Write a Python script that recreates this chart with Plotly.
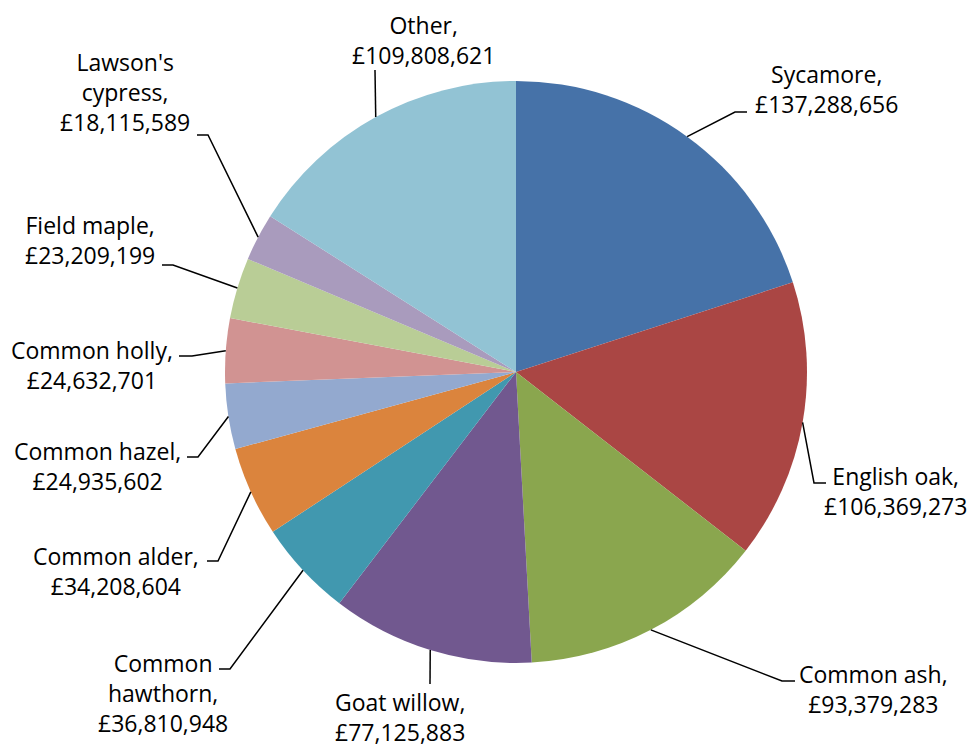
import math
import plotly.graph_objects as go

W, H = 970, 749

species = ["Sycamore", "English oak", "Common ash", "Goat willow", "Common hawthorn",
           "Common alder", "Common hazel", "Common holly", "Field maple",
           "Lawson's cypress", "Other"]
values = [137288656, 106369273, 93379283, 77125883, 36810948,
          34208604, 24935602, 24632701, 23209199, 18115589, 109808621]
label_text = ["Sycamore,", "English oak,", "Common ash,", "Goat willow,", "Common<br>hawthorn,",
              "Common alder,", "Common hazel,", "Common holly,", "Field maple,",
              "Lawson's<br>cypress,", "Other,"]
colors = ["#4672A8", "#AA4644", "#8AA64E", "#71588F", "#4198AF",
          "#DB843D", "#93A9CF", "#D19392", "#B9CD96", "#A99BBD", "#92C3D4"]

# layout of the pie (pixels)
CX, CY, R = 516, 372, 291
# label centres (pixels)
label_pos = [(826, 89), (895, 491), (873, 689), (400, 717), (163, 693),
             (116, 571), (97, 466), (92, 365), (90, 240), (125, 92), (423, 40)]
# leader-line elbow and end points (pixels)
leader_elbow = [(735, 112), (814, 483), (782, 681), (430, 684), (230, 669),
                (218, 561), (198, 457), (192, 356), (173, 265), (208, 135), (375, 70)]
leader_end = [(747, 112), (826, 483), (795, 681), (430, 684), (219, 669),
              (207, 561), (187, 457), (179, 356), (162, 265), (197, 135), (375, 70)]

def px(x):
    return x / W

def py(y):
    return 1 - y / H

fig = go.Figure(go.Pie(
    labels=species, values=values, sort=False, direction="clockwise", rotation=0,
    marker=dict(colors=colors, line=dict(width=0)),
    textinfo="none", hoverinfo="label+value", showlegend=False,
    domain=dict(x=[px(CX - R), px(CX + R)], y=[py(CY + R), py(CY - R)]),
))

total = sum(values)
cum = 0
shapes = []
annotations = []
for i, v in enumerate(values):
    mid = 2 * math.pi * (cum + v / 2) / total
    cum += v
    sx = CX + R * math.sin(mid)
    sy = CY - R * math.cos(mid)
    ex, ey = leader_elbow[i]
    fx, fy = leader_end[i]
    path = f"M {px(sx)},{py(sy)} L {px(ex)},{py(ey)} L {px(fx)},{py(fy)}"
    shapes.append(dict(type="path", xref="paper", yref="paper", path=path,
                       line=dict(color="black", width=1.5)))
    lx, ly = label_pos[i]
    annotations.append(dict(
        x=px(lx), y=py(ly), xref="paper", yref="paper", xanchor="center", yanchor="middle",
        showarrow=False, align="center",
        text=f"{label_text[i]}<br>£{v:,}",
        font=dict(family="Open Sans", size=23, color="black")))

fig.update_layout(
    width=W, height=H, margin=dict(l=0, r=0, t=0, b=0),
    paper_bgcolor="white", plot_bgcolor="white",
    shapes=shapes, annotations=annotations,
)

fig.write_html("out.html", config={"displayModeBar": False},
               post_script="document.body.style.margin='0';document.body.style.overflow='hidden';")
